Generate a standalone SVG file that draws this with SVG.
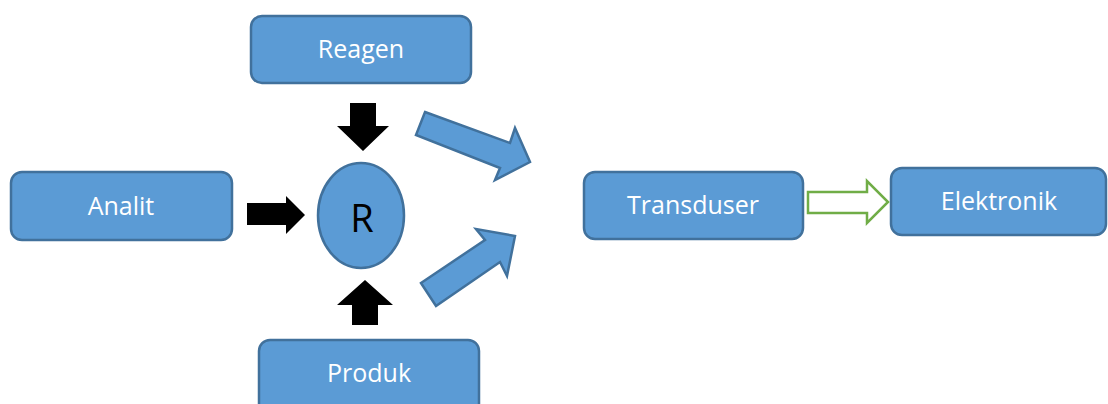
<svg xmlns="http://www.w3.org/2000/svg" width="1108" height="404" viewBox="0 0 1108 404">
<style>
.box{fill:#5B9BD5;stroke:#41719C;stroke-width:2.5}
.lbl{font-family:"Open Sans","Noto Sans",sans-serif;font-size:25px;fill:#FFFFFF;text-anchor:middle}
.blk{fill:#000000}
.big{fill:#5B9BD5;stroke:#41719C;stroke-width:2.5;stroke-linejoin:miter}
.grn{fill:#FFFFFF;stroke:#70AD47;stroke-width:2.5}
</style>
<rect width="1108" height="404" fill="#FFFFFF"/>
<g id="reagen"><rect class="box" x="251" y="16" width="220" height="67" rx="11"/><text class="lbl" x="361" y="58">Reagen</text></g>
<g id="analit"><rect class="box" x="11" y="172" width="221" height="68" rx="11"/><text class="lbl" x="121" y="215">Analit</text></g>
<g id="produk"><rect class="box" x="259" y="340" width="220" height="80" rx="11"/><text class="lbl" x="369" y="382">Produk</text></g>
<g id="transduser"><rect class="box" x="584" y="172" width="219" height="67" rx="11"/><text class="lbl" x="693" y="214">Transduser</text></g>
<g id="elektronik"><rect class="box" x="891" y="168" width="215" height="67" rx="11"/><text class="lbl" x="999" y="210">Elektronik</text></g>
<g id="r"><ellipse class="box" cx="361" cy="215.5" rx="43" ry="52.5"/><text x="362" y="232" font-family="Open Sans, Noto Sans, sans-serif" font-size="38" fill="#000000" text-anchor="middle">R</text></g>
<g id="connectors">
<polygon class="blk" points="350,103 376,103 376,126 389,126 363,151 337,126 350,126"/>
<polygon class="blk" points="247,203 286,203 286,196 305,215 286,234 286,225 247,225"/>
<polygon class="blk" points="352,325 378,325 378,305 393,305 365,280 337,305 352,305"/>
<polygon class="big" points="425,112 510,143 515,128 530,162 495,180 500,168 416,135"/>
<polygon class="big" points="421,283 485,240 476,229 515,236 507,276 500,262 436,306"/>
<polygon class="grn" points="808,192 867,192 867,181 888,202 867,223 867,213 808,213"/>
</g>
</svg>
